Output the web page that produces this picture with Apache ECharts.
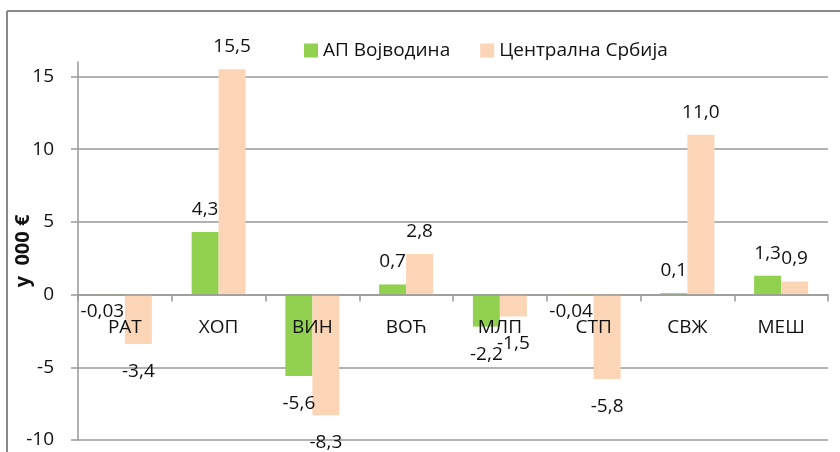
<!DOCTYPE html>
<html>
<head>
<meta charset="utf-8">
<script src="https://cdn.jsdelivr.net/npm/echarts@6/dist/echarts.min.js"></script>
<style>
  html, body { margin: 0; padding: 0; background: #fff; }
  #chart { width: 840px; height: 452px; }
</style>
</head>
<body>
<div id="chart"></div>
<script>
const categories = ['РАТ', 'ХОП', 'ВИН', 'ВОЋ', 'МЛП', 'СТП', 'СВЖ', 'МЕШ']
const vojvodina = [-0.03, 4.3, -5.6, 0.7, -2.2, -0.04, 0.1, 1.3]
const srbija = [-3.4, 15.5, -8.3, 2.8, -1.5, -5.8, 11.0, 0.9]
const seriesNames = ['АП Војводина', 'Централна Србија']

const FONT = 'Open Sans'
const TXT = '#111'
const GRID = '#999'

function fmt (v) {
  return v.toFixed(Math.abs(v) < 0.095 ? 2 : 1).replace('.', ',')
}

// tiny negative values: Excel pulls their labels up and a bit left
function makeData (vals) {
  return vals.map(v => {
    const tiny = v < 0 && Math.abs(v) < 0.095
    return {
      value: v,
      label: {
        distance: tiny ? 7 : (v < 0 ? 18 : 13),
        offset: tiny ? [-9, 0] : [0, 0]
      }
    }
  })
}

function barSeries (name, vals, color) {
  return {
    name: name,
    type: 'bar',
    barWidth: 27,
    barGap: '0%',
    clip: false,
    z: 2,
    itemStyle: { color: color },
    label: {
      show: true,
      position: 'outside',
      color: TXT,
      fontFamily: FONT,
      fontSize: 19,
      formatter: p => fmt(p.value)
    },
    data: makeData(vals)
  }
}

const chart = echarts.init(document.getElementById('chart'))
chart.setOption({
  animation: false,
  backgroundColor: '#fff',
  textStyle: { fontFamily: FONT },
  legend: {
    left: 299,
    top: 36,
    itemWidth: 14,
    itemHeight: 14,
    itemGap: 30,
    icon: 'rect',
    textStyle: { fontFamily: FONT, fontSize: 19, color: TXT },
    data: seriesNames
  },
  grid: { left: 78, right: 12, top: 62, bottom: 12, containLabel: false, outerBoundsMode: 'none' },
  xAxis: {
    type: 'category',
    data: categories,
    z: 5,
    offset: 0,
    axisLine: { onZero: false, lineStyle: { color: GRID, width: 1.5 } },
    axisTick: { show: true, length: 7, lineStyle: { color: GRID, width: 1.5 } },
    axisLabel: { color: TXT, fontFamily: FONT, fontSize: 19, margin: 23, interval: 0 },
    splitLine: { show: false }
  },
  yAxis: {
    type: 'value',
    min: -10,
    max: 16,
    interval: 5,
    name: 'у  000 €',
    nameLocation: 'middle',
    nameRotate: 90,
    nameGap: 45,
    nameMoveOverlap: false,
    nameTextStyle: { fontFamily: FONT, fontSize: 20, fontWeight: 'bold', color: TXT },
    axisLine: { show: true, lineStyle: { color: GRID, width: 1.5 } },
    axisTick: { show: true, length: 7, lineStyle: { color: GRID, width: 1.5 } },
    axisLabel: {
      color: TXT, fontFamily: FONT, fontSize: 19, margin: 24,
      showMaxLabel: false
    },
    splitLine: { show: true, showMaxLine: false, lineStyle: { color: GRID, width: 1.5 } }
  },
  graphic: [
    { type: 'line', shape: { x1: 7, y1: 11, x2: 840, y2: 11 }, style: { stroke: '#8a8a8a', lineWidth: 2 } },
    { type: 'line', shape: { x1: 7, y1: 11, x2: 7, y2: 452 }, style: { stroke: '#8a8a8a', lineWidth: 2 } }
  ],
  series: [
    barSeries(seriesNames[0], vojvodina, '#92D050'),
    barSeries(seriesNames[1], srbija, '#FBD5B5')
  ]
})

// move the category axis up to the zero line (onZero does not take here)
const bottomY = chart.convertToPixel({ yAxisIndex: 0 }, -10)
const zeroY = chart.convertToPixel({ yAxisIndex: 0 }, 0)
chart.setOption({ xAxis: { offset: zeroY - bottomY } })
</script>
</body>
</html>
